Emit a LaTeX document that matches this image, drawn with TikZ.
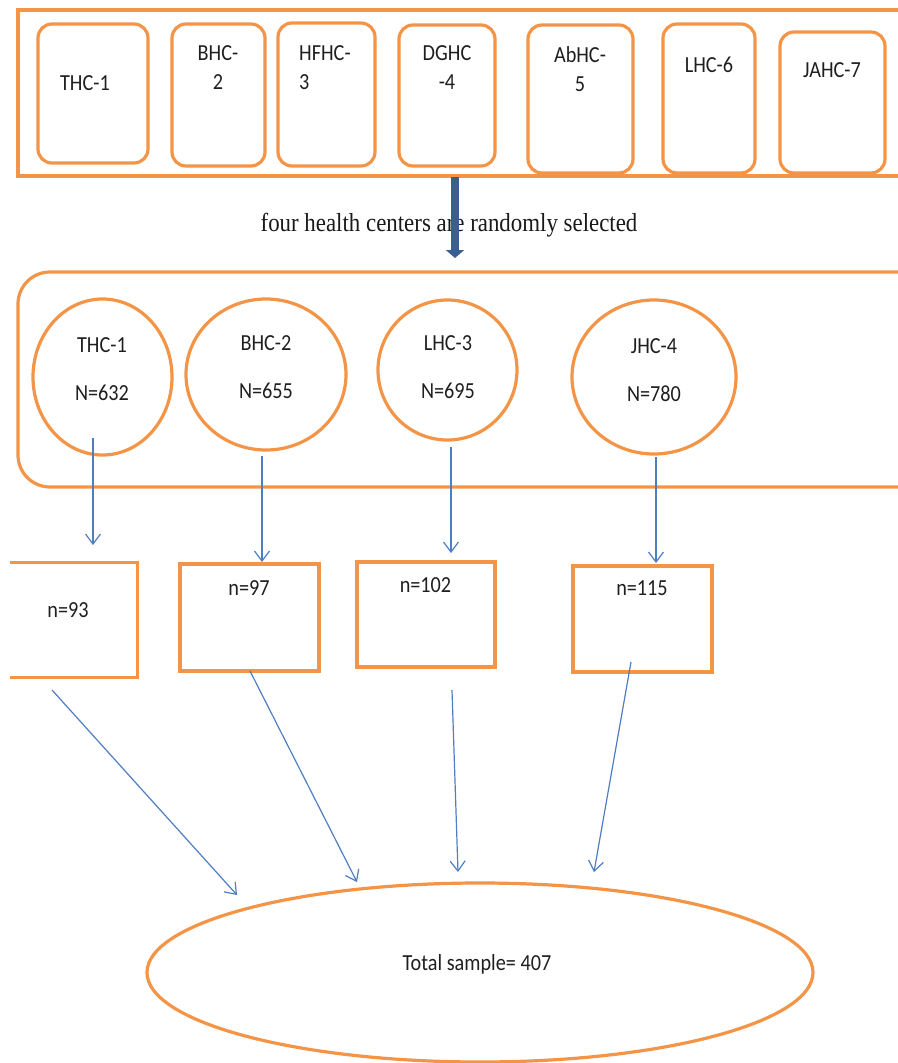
\documentclass[tikz,border=0pt]{standalone}
\usepackage{fontspec}
\setmainfont{Carlito}[FakeStretch=0.88]
\newfontfamily\capfont{Liberation Serif}[FakeStretch=0.88]
\usetikzlibrary{shapes.geometric,arrows.meta}
\definecolor{orng}{HTML}{F39447}
\definecolor{arblue}{HTML}{4F7EC0}
\definecolor{dkblue}{HTML}{3A5D92}
\begin{document}
\begin{tikzpicture}[x=1pt,y=-1pt,
  obox/.style={draw=orng, line width=3.2pt, inner sep=0pt},
  hcbox/.style={obox, rounded corners=14pt},
  circ/.style={obox, ellipse},
  lbl/.style={inner sep=0pt, font=\fontsize{23}{29}\selectfont, text=black!88},
  thinarr/.style={draw=arblue, line width=1.2pt, -{Straight Barb[length=10pt,width=15pt]}},
  bigarr/.style={draw=dkblue, line width=8pt, -{Triangle[length=8pt,width=18pt]}}
]
\useasboundingbox (0,0) rectangle (897,1063);
% ---------- top container with seven health centres
\node[obox, minimum width=882pt, minimum height=166pt] (topbox) at (459,93) {};
\node[hcbox, minimum width=110pt, minimum height=139pt] (h1) at (93,93.5) {};
\node[hcbox, minimum width=93pt, minimum height=142pt] (h2) at (218.5,95) {};
\node[hcbox, minimum width=97pt, minimum height=143pt] (h3) at (326.5,94.5) {};
\node[hcbox, minimum width=96pt, minimum height=141pt] (h4) at (447,95.5) {};
\node[hcbox, minimum width=105pt, minimum height=148pt] (h5) at (580.5,99) {};
\node[hcbox, minimum width=92pt, minimum height=149pt] (h6) at (709,98.5) {};
\node[hcbox, minimum width=105pt, minimum height=141pt] (h7) at (832.5,102.5) {};
\node[lbl] (th1) at (85,83) {THC-1};
\node[lbl, align=center] (th2) at (218,67.5) {BHC-\\2};
\node[lbl, align=left, anchor=west] (th3) at (299,67.5) {HFHC-\\3};
\node[lbl, align=center] (th4) at (447,67.5) {DGHC\\-4};
\node[lbl, align=center] (th5) at (580,69) {AbHC-\\5};
\node[lbl] (th6) at (709,65) {LHC-6};
\node[lbl] (th7) at (832,70) {JAHC-7};
% ---------- caption and thick arrow
\node[inner sep=0pt, font=\capfont\fontsize{26}{30}\selectfont, text=black!90] (cap) at (449,225) {four health centers are randomly selected};
\coordinate (ta) at (455,177);
\coordinate (tb) at (455,258);
\draw[bigarr] (ta) -- (tb);
% ---------- selected health centres
\node[obox, rounded corners=32pt, minimum width=922pt, minimum height=215pt] (selbox) at (479,379.5) {};
\node[circ, minimum width=139pt, minimum height=156pt] (c1) at (102.5,377) {};
\node[circ, minimum width=160pt, minimum height=151pt] (c2) at (266,374.5) {};
\node[circ, minimum width=139pt, minimum height=140pt] (c3) at (447.5,370) {};
\node[circ, minimum width=164pt, minimum height=154pt] (c4) at (654,377) {};
\node[lbl, align=center] (tc1) at (102,369) {THC-1\\[19pt]N=632};
\node[lbl, align=center] (tc2) at (266,367.5) {BHC-2\\[19pt]N=655};
\node[lbl, align=center] (tc3) at (448,367.5) {LHC-3\\[19pt]N=695};
\node[lbl, align=center] (tc4) at (654,370.5) {JHC-4\\[19pt]N=780};
% ---------- sample boxes
\node[minimum width=127pt, minimum height=114pt, inner sep=0pt] (r1) at (73.5,620) {};
\draw[obox] (r1.north west) -- (r1.north east) -- (r1.south east) -- (r1.south west);
\node[obox, minimum width=139pt, minimum height=107pt] (r2) at (249.5,617.5) {};
\node[obox, minimum width=138pt, minimum height=105pt] (r3) at (426,614.5) {};
\node[obox, minimum width=139pt, minimum height=106pt] (r4) at (642.5,619) {};
\node[lbl] (tr1) at (68,610) {n=93};
\node[lbl] (tr2) at (249,588) {n=97};
\node[lbl] (tr3) at (425.5,585) {n=102};
\node[lbl] (tr4) at (642,588) {n=115};
% ---------- total sample
\node[circ, minimum width=666pt, minimum height=179pt] (tot) at (480,972.5) {};
\node[lbl] (ttot) at (477,964) {Total sample= 407};
% ---------- thin arrows
\coordinate (s1) at (93,438);  \coordinate (e1) at (93,545);
\coordinate (s2) at (262,456); \coordinate (e2) at (262,562);
\coordinate (s3) at (451,447); \coordinate (e3) at (451,553);
\coordinate (s4) at (656,457); \coordinate (e4) at (656,563);
\draw[thinarr] (s1) -- (e1);
\draw[thinarr] (s2) -- (e2);
\draw[thinarr] (s3) -- (e3);
\draw[thinarr] (s4) -- (e4);
\coordinate (u1) at (52,690);  \coordinate (v1) at (237,895);
\coordinate (u2) at (250,671); \coordinate (v2) at (357,882);
\coordinate (u3) at (452,690); \coordinate (v3) at (458,872);
\coordinate (u4) at (631,662); \coordinate (v4) at (594,872);
\draw[thinarr] (u1) -- (v1);
\draw[thinarr] (u2) -- (v2);
\draw[thinarr] (u3) -- (v3);
\draw[thinarr] (u4) -- (v4);
\end{tikzpicture}
\end{document}
